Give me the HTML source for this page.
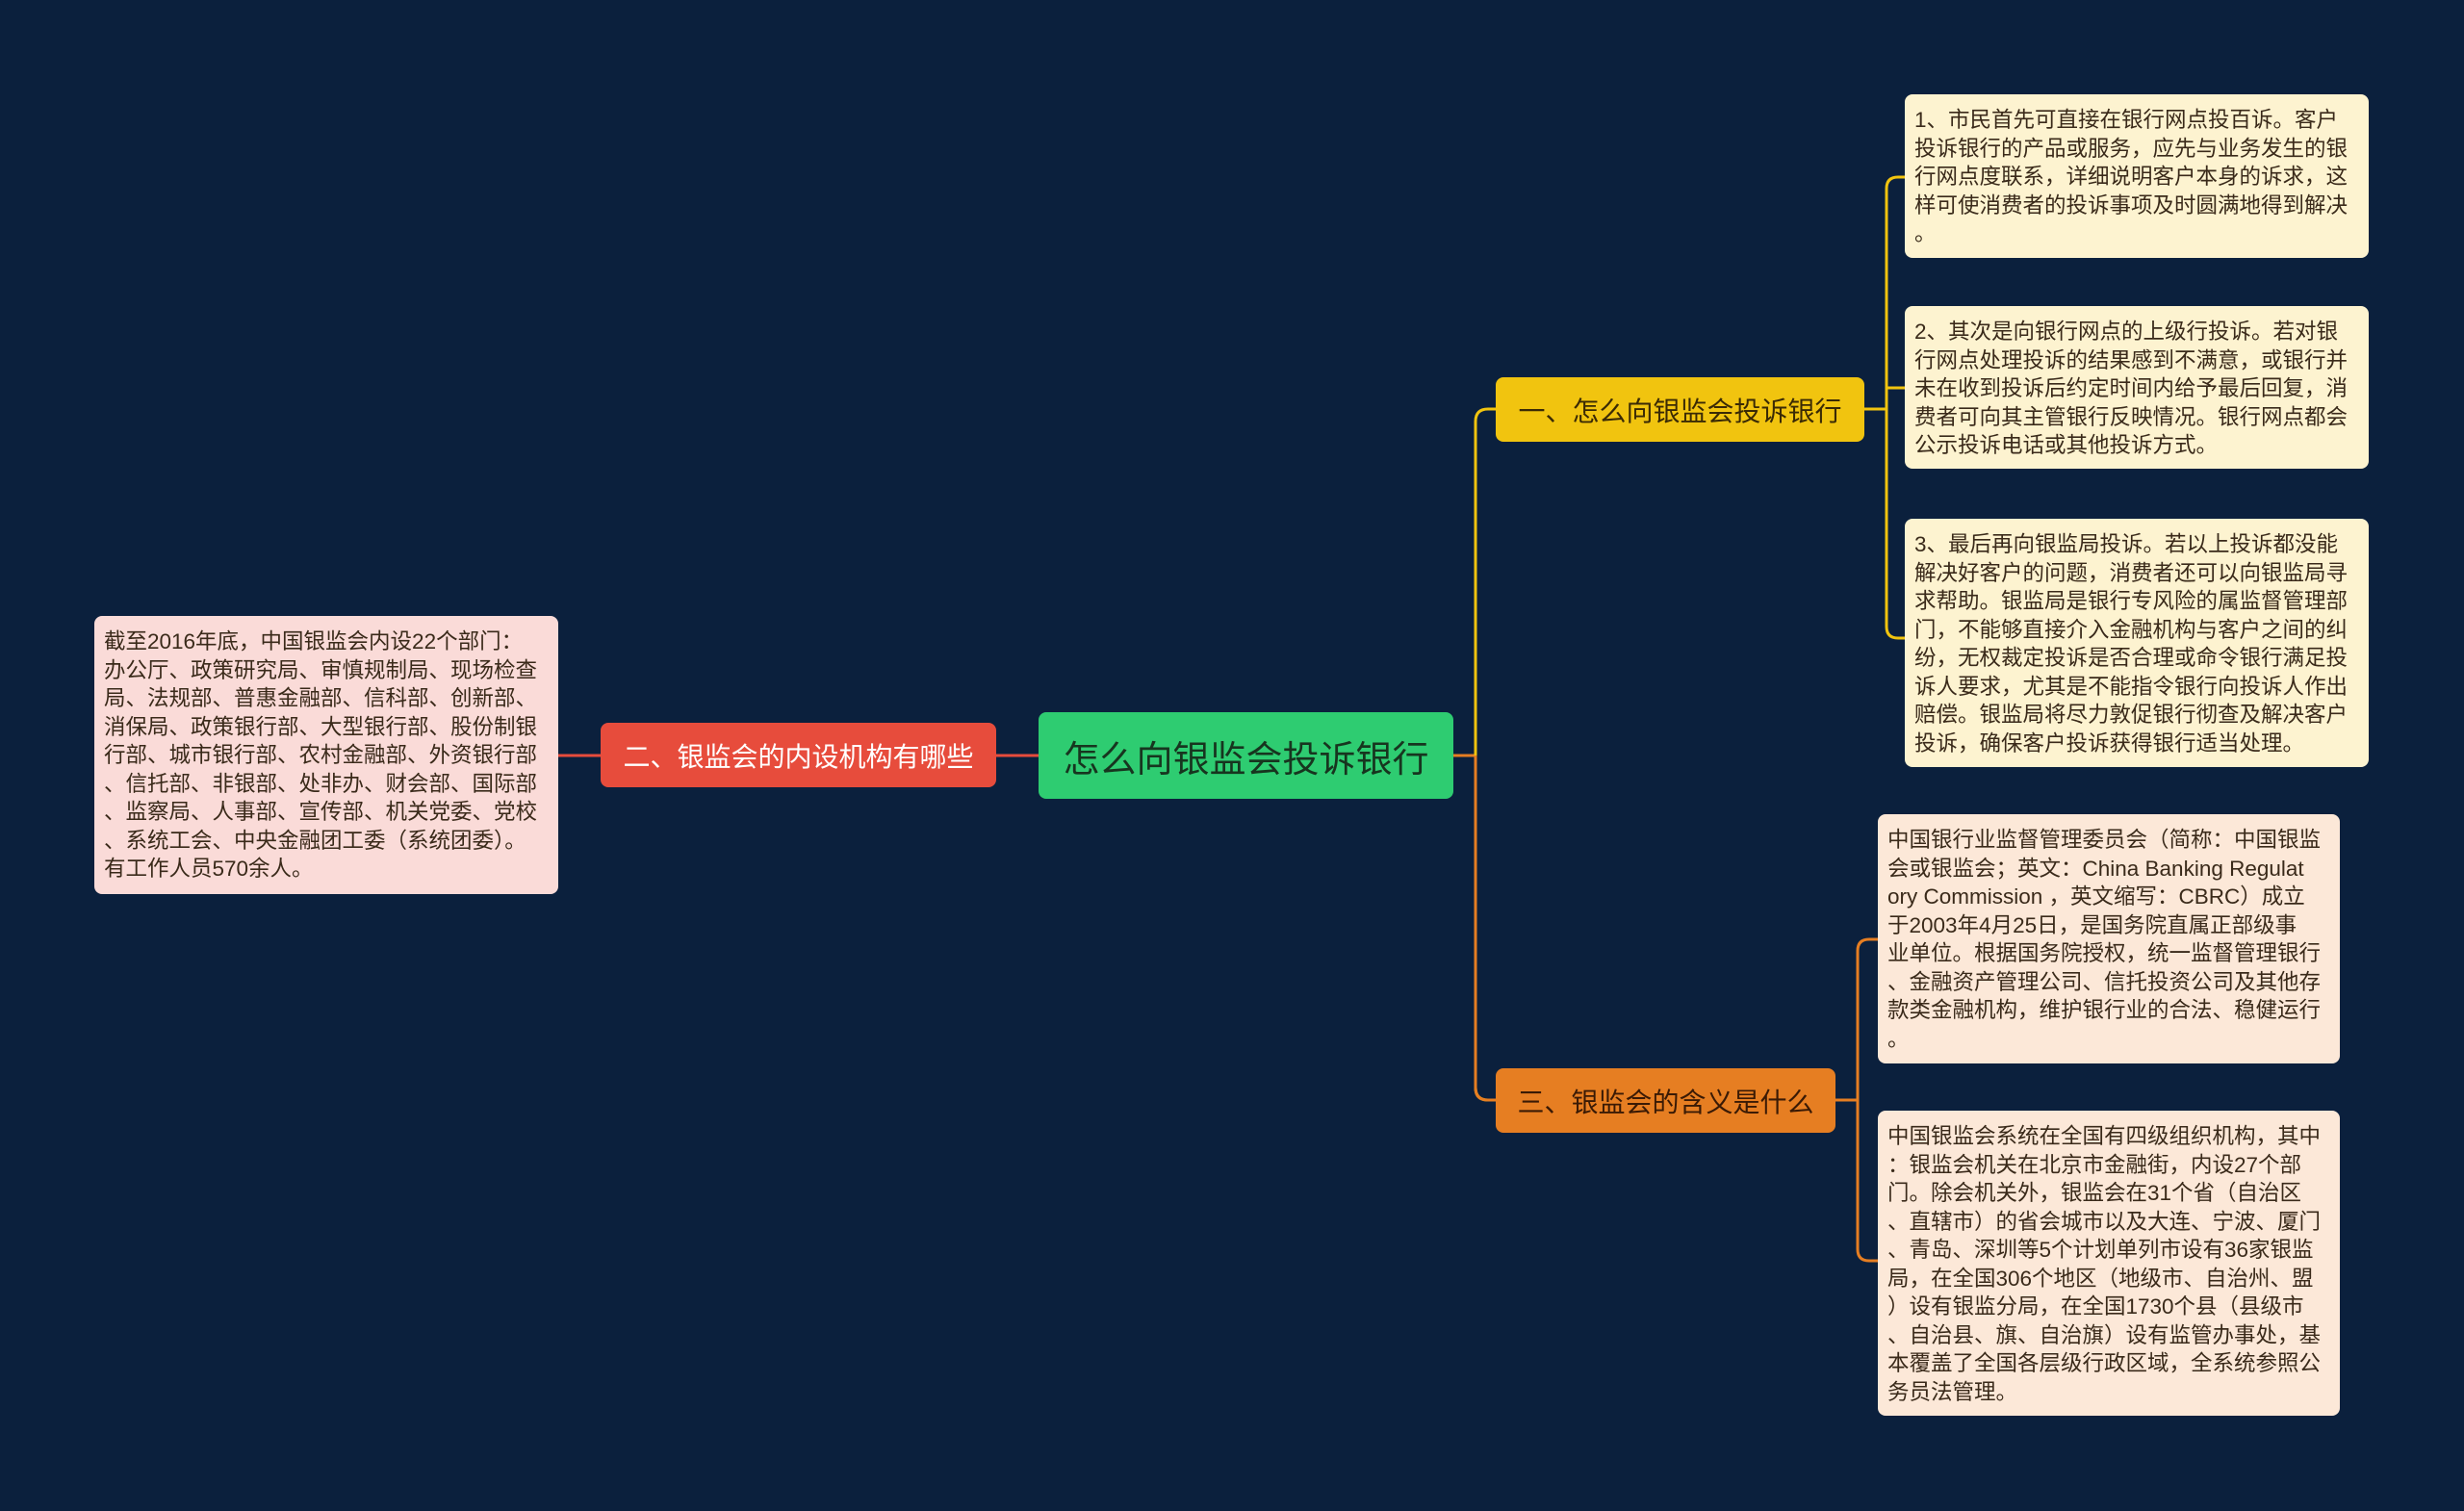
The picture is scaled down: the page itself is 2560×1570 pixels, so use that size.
<!DOCTYPE html>
<html><head><meta charset="utf-8"><style>
body{margin:0;width:2560px;height:1570px;background:#0b203d;position:relative;overflow:hidden;font-family:"Liberation Sans","Noto Sans CJK SC",sans-serif}
.n{position:absolute;box-sizing:border-box;border-radius:8px}
.b{display:flex;align-items:center;justify-content:center;white-space:nowrap}
.l{font-size:22.5px;line-height:29.5px;color:#3a2a1a;padding:12px 10px;white-space:nowrap;overflow:hidden}
</style></head><body>
<svg width="2560" height="1570" style="position:absolute;left:0;top:0">
<g fill="none" stroke-width="3">
<path d="M1510 785 H1533" stroke="#e67e22"/>
<path d="M1554 425 H1546 Q1533 425 1533 438 V1130 Q1533 1143 1546 1143 H1554" stroke="#f1c40f"/>
<path d="M1533 785 V1130 Q1533 1143 1546 1143 H1554" stroke="#e67e22"/>
<path d="M1079 785 H1035 M624 785 H580" stroke="#e74c3c"/>
<path d="M1937 425 H1960" stroke="#f1c40f"/>
<path d="M1979 184 H1972 Q1960 184 1960 196 V651 Q1960 663 1972 663 H1979 M1960 403 H1979" stroke="#f1c40f"/>
<path d="M1907 1143 H1930" stroke="#e67e22"/>
<path d="M1951 976 H1942 Q1930 976 1930 988 V1298 Q1930 1310 1942 1310 H1951" stroke="#e67e22"/>
</g></svg>
<div class="n b" style="left:1079px;top:740px;width:431px;height:90px;background:#2ecc71;font-size:38px;color:#17351f">怎么向银监会投诉银行</div>
<div class="n b" style="left:624px;top:751px;width:411px;height:67px;background:#e74c3c;font-size:28px;color:#fff">二、银监会的内设机构有哪些</div>
<div class="n b" style="left:1554px;top:392px;width:383px;height:67px;background:#f1c40f;font-size:28px;color:#3a2a05">一、怎么向银监会投诉银行</div>
<div class="n b" style="left:1554px;top:1110px;width:353px;height:67px;background:#e67e22;font-size:28px;color:#3a1a05">三、银监会的含义是什么</div>
<div class="n l" style="left:98px;top:640px;width:482px;height:289px;background:#fadbd8">截至2016年底，中国银监会内设22个部门：<br>办公厅、政策研究局、审慎规制局、现场检查<br>局、法规部、普惠金融部、信科部、创新部、<br>消保局、政策银行部、大型银行部、股份制银<br>行部、城市银行部、农村金融部、外资银行部<br>、信托部、非银部、处非办、财会部、国际部<br>、监察局、人事部、宣传部、机关党委、党校<br>、系统工会、中央金融团工委（系统团委）。<br>有工作人员570余人。</div>
<div class="n l" style="left:1979px;top:98px;width:482px;height:170px;background:#fdf3d0">1、市民首先可直接在银行网点投百诉。客户<br>投诉银行的产品或服务，应先与业务发生的银<br>行网点度联系，详细说明客户本身的诉求，这<br>样可使消费者的投诉事项及时圆满地得到解决<br>。</div>
<div class="n l" style="left:1979px;top:318px;width:482px;height:169px;background:#fdf3d0">2、其次是向银行网点的上级行投诉。若对银<br>行网点处理投诉的结果感到不满意，或银行并<br>未在收到投诉后约定时间内给予最后回复，消<br>费者可向其主管银行反映情况。银行网点都会<br>公示投诉电话或其他投诉方式。</div>
<div class="n l" style="left:1979px;top:539px;width:482px;height:258px;background:#fdf3d0">3、最后再向银监局投诉。若以上投诉都没能<br>解决好客户的问题，消费者还可以向银监局寻<br>求帮助。银监局是银行专风险的属监督管理部<br>门，不能够直接介入金融机构与客户之间的纠<br>纷，无权裁定投诉是否合理或命令银行满足投<br>诉人要求，尤其是不能指令银行向投诉人作出<br>赔偿。银监局将尽力敦促银行彻查及解决客户<br>投诉，确保客户投诉获得银行适当处理。</div>
<div class="n l" style="left:1951px;top:846px;width:480px;height:259px;background:#fce8d8">中国银行业监督管理委员会（简称：中国银监<br>会或银监会；英文：China Banking Regulat<br>ory Commission ，英文缩写：CBRC）成立<br>于2003年4月25日，是国务院直属正部级事<br>业单位。根据国务院授权，统一监督管理银行<br>、金融资产管理公司、信托投资公司及其他存<br>款类金融机构，维护银行业的合法、稳健运行<br>。</div>
<div class="n l" style="left:1951px;top:1154px;width:480px;height:317px;background:#fce8d8">中国银监会系统在全国有四级组织机构，其中<br>：银监会机关在北京市金融街，内设27个部<br>门。除会机关外，银监会在31个省（自治区<br>、直辖市）的省会城市以及大连、宁波、厦门<br>、青岛、深圳等5个计划单列市设有36家银监<br>局，在全国306个地区（地级市、自治州、盟<br>）设有银监分局，在全国1730个县（县级市<br>、自治县、旗、自治旗）设有监管办事处，基<br>本覆盖了全国各层级行政区域，全系统参照公<br>务员法管理。</div>
</body></html>
